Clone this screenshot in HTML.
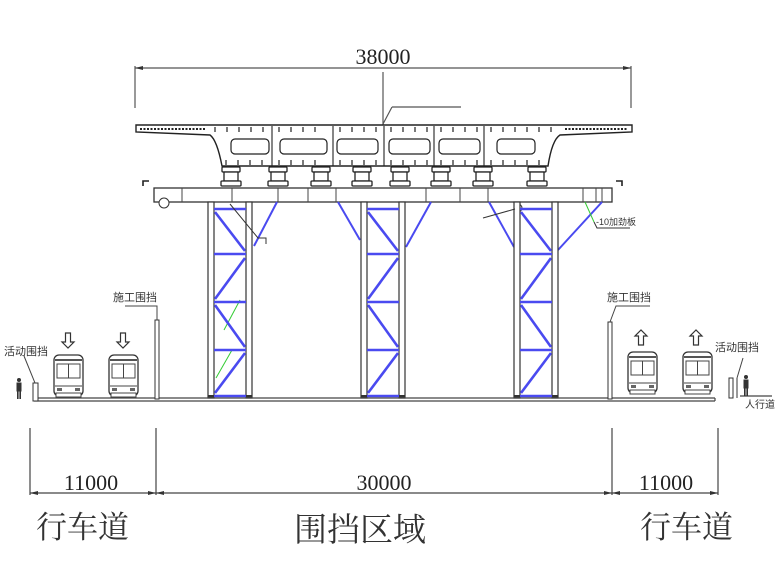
<!DOCTYPE html>
<html><head><meta charset="utf-8"><style>
html,body{margin:0;padding:0;background:#fff;}
svg{display:block;}
.t{font-family:"Liberation Serif",serif;fill:#222;}
.c{font-family:"Liberation Sans","Noto Sans CJK SC",sans-serif;fill:#333;}
</style></head><body>
<svg width="780" height="585" viewBox="0 0 780 585" xmlns="http://www.w3.org/2000/svg">
<defs>
<g id="tower">
  <rect x="0" y="0" width="6" height="196" fill="#fff" stroke="#333" stroke-width="1.2"/>
  <rect x="38" y="0" width="6" height="196" fill="#fff" stroke="#333" stroke-width="1.2"/>
  <g stroke="#4a4af0" stroke-width="2.6">
    <line x1="6" y1="7" x2="38" y2="7"/>
    <line x1="6" y1="52" x2="38" y2="52"/>
    <line x1="6" y1="100" x2="38" y2="100"/>
    <line x1="6" y1="148" x2="38" y2="148"/>
    <line x1="6" y1="194" x2="38" y2="194"/>
    <line x1="7" y1="10" x2="37" y2="49"/>
    <line x1="37" y1="56" x2="7" y2="97"/>
    <line x1="7" y1="103" x2="37" y2="145"/>
    <line x1="37" y1="151" x2="7" y2="191"/>
  </g>
  <rect x="0" y="193" width="6" height="3" fill="#333"/>
  <rect x="38" y="193" width="6" height="3" fill="#333"/>
</g>
<g id="bearing">
  <rect x="-9" y="0" width="18" height="5" fill="#fff" stroke="#222" stroke-width="1.3" rx="1"/>
  <rect x="-7" y="5" width="14" height="9" fill="#fff" stroke="#222" stroke-width="1.3"/>
  <rect x="-10" y="14" width="20" height="5" fill="#fff" stroke="#222" stroke-width="1.3" rx="1"/>
</g>
<g id="bus">
  <rect x="0" y="0" width="29" height="41" rx="5" fill="#fff" stroke="#333" stroke-width="1.3"/>
  <line x1="1" y1="5" x2="28" y2="5" stroke="#555" stroke-width="2"/>
  <rect x="3" y="9" width="23" height="14" fill="none" stroke="#444"/>
  <line x1="14.5" y1="9" x2="14.5" y2="23" stroke="#444"/>
  <line x1="1" y1="31" x2="28" y2="31" stroke="#444"/>
  <rect x="3" y="33" width="5" height="3" fill="#666"/>
  <rect x="21" y="33" width="5" height="3" fill="#666"/>
  <rect x="2" y="38" width="25" height="4" fill="#fff" stroke="#444"/>
</g>
<g id="arrowdown">
  <path d="M-2.5,0 H2.5 V9 H6 L0,15 L-6,9 H-2.5 Z" fill="#fff" stroke="#333" stroke-width="1.2"/>
</g>
<g id="person">
  <circle cx="0" cy="2" r="2" fill="#333"/>
  <rect x="-2.5" y="4.5" width="5" height="9" fill="#333"/>
  <rect x="-2" y="13" width="1.6" height="8" fill="#333"/>
  <rect x="0.4" y="13" width="1.6" height="8" fill="#333"/>
</g>
</defs>

<!-- top dimension -->
<g stroke="#555" stroke-width="1.2" fill="none">
  <line x1="135" y1="68" x2="631" y2="68"/>
  <line x1="135" y1="66" x2="135" y2="108"/>
  <line x1="631" y1="66" x2="631" y2="108"/>
  <line x1="383" y1="72" x2="383" y2="126"/>
  <line x1="383" y1="124" x2="392" y2="107"/>
  <line x1="392" y1="107" x2="461" y2="107"/>
</g>
<path d="M135,68 l8,-2 v4z M631,68 l-8,-2 v4z" fill="#333"/>
<text x="383" y="64" class="t" font-size="22" text-anchor="middle">38000</text>

<!-- deck -->
<path d="M136,125 L632,125 L632,132 L560,135 Q552,140 548,166 L222,166 Q217,140 210,135 L136,132 Z" fill="#fff" stroke="#222" stroke-width="1.4"/>
<g stroke="#222" stroke-width="1.1">
  <line x1="272" y1="126" x2="272" y2="166"/>
  <line x1="333" y1="126" x2="333" y2="166"/>
  <line x1="384" y1="126" x2="384" y2="166"/>
  <line x1="434" y1="126" x2="434" y2="166"/>
  <line x1="484" y1="126" x2="484" y2="166"/>
</g>
<g fill="none" stroke="#222" stroke-width="1.2">
  <rect x="231" y="139" width="38" height="15" rx="4"/>
  <rect x="280" y="139" width="47" height="15" rx="4"/>
  <rect x="337" y="139" width="41" height="15" rx="4"/>
  <rect x="389" y="139" width="41" height="15" rx="4"/>
  <rect x="439" y="139" width="41" height="15" rx="4"/>
  <rect x="497" y="139" width="38" height="15" rx="4"/>
</g>
<!-- ribs -->
<g stroke="#222" stroke-width="1.2" fill="none" id="ribs">
  <path d="M215,127 v5 M227,127 v5 M239,127 v5 M251,127 v5 M263,127 v5 M279,127 v5 M291,127 v5 M303,127 v5 M315,127 v5 M340,127 v5 M352,127 v5 M364,127 v5 M376,127 v5 M391,127 v5 M403,127 v5 M415,127 v5 M427,127 v5 M441,127 v5 M453,127 v5 M465,127 v5 M477,127 v5 M491,127 v5 M503,127 v5 M515,127 v5 M527,127 v5 M539,127 v5 M551,127 v5"/>
  <path d="M226,165 v-5 M238,165 v-5 M250,165 v-5 M262,165 v-5 M279,165 v-5 M291,165 v-5 M303,165 v-5 M315,165 v-5 M340,165 v-5 M352,165 v-5 M364,165 v-5 M376,165 v-5 M391,165 v-5 M403,165 v-5 M415,165 v-5 M427,165 v-5 M441,165 v-5 M453,165 v-5 M465,165 v-5 M477,165 v-5 M491,165 v-5 M503,165 v-5 M515,165 v-5 M527,165 v-5 M539,165 v-5"/>
</g>
<g stroke="#222" stroke-width="2" stroke-dasharray="2 1.5">
  <line x1="140" y1="129" x2="205" y2="129"/>
  <line x1="565" y1="129" x2="628" y2="129"/>
</g>

<!-- bearings -->
<use href="#bearing" x="231" y="167"/>
<use href="#bearing" x="278" y="167"/>
<use href="#bearing" x="321" y="167"/>
<use href="#bearing" x="362" y="167"/>
<use href="#bearing" x="400" y="167"/>
<use href="#bearing" x="441" y="167"/>
<use href="#bearing" x="483" y="167"/>
<use href="#bearing" x="537" y="167"/>

<!-- cap beam -->
<rect x="154" y="188" width="458" height="14" fill="#fff" stroke="#333" stroke-width="1.3"/>
<g stroke="#444" stroke-width="1">
  <line x1="182" y1="188" x2="182" y2="202"/><line x1="232" y1="188" x2="232" y2="202"/>
  <line x1="278" y1="188" x2="278" y2="202"/><line x1="308" y1="188" x2="308" y2="202"/>
  <line x1="336" y1="188" x2="336" y2="202"/><line x1="426" y1="188" x2="426" y2="202"/>
  <line x1="460" y1="188" x2="460" y2="202"/><line x1="488" y1="188" x2="488" y2="202"/>
  <line x1="583" y1="188" x2="583" y2="202"/><line x1="596" y1="188" x2="596" y2="202"/>
  <line x1="602" y1="188" x2="602" y2="202"/>
</g>
<circle cx="164" cy="203" r="5" fill="#fff" stroke="#333"/>
<circle cx="518" cy="208" r="4" fill="#fff" stroke="#333"/>
<path d="M143,186 v-5 h6 M622,186 v-5 h-6" fill="none" stroke="#222" stroke-width="1.6"/>

<!-- outer braces -->
<g stroke="#4a4af0" stroke-width="2">
  <line x1="277" y1="202" x2="254" y2="246"/>
  <line x1="338" y1="202" x2="360" y2="240"/>
  <line x1="431" y1="202" x2="406" y2="247"/>
  <line x1="489" y1="202" x2="514" y2="247"/>
  <line x1="602" y1="202" x2="558" y2="250"/>
</g>
<g stroke="#3c3" stroke-width="1">
  <line x1="585" y1="202" x2="594" y2="222"/>
  <line x1="240" y1="300" x2="224" y2="330"/>
  <line x1="232" y1="350" x2="216" y2="378"/>
</g>
<!-- towers -->
<use href="#tower" x="208" y="202"/>
<use href="#tower" x="361" y="202"/>
<use href="#tower" x="514" y="202"/>

<!-- leaders near towers -->
<g stroke="#333" stroke-width="1" fill="none">
  <path d="M230,204 L258,238 H266 V244"/>
  <path d="M515,209 L483,218"/>
  <path d="M594,222 L597,228 H630"/>
</g>
<text x="596" y="225" class="c" font-size="9">-10加劲板</text>

<!-- ground -->
<g stroke="#444" stroke-width="1.2" fill="none">
  <line x1="34" y1="398" x2="715" y2="398"/>
  <line x1="34" y1="401" x2="715" y2="401"/>
  <line x1="715" y1="398" x2="715" y2="401"/>
  <line x1="740" y1="396" x2="772" y2="396"/>
</g>
<!-- movable fences -->
<rect x="33" y="383" width="5" height="18" fill="#fff" stroke="#333"/>
<rect x="729" y="378" width="4" height="20" fill="#fff" stroke="#333"/>
<line x1="737" y1="378" x2="737" y2="398" stroke="#333"/>
<g stroke="#444" stroke-width="1" fill="none">
  <path d="M24,356 L35,383"/>
  <path d="M743,358 L737,378"/>
</g>
<use href="#person" x="19" y="378"/>
<use href="#person" x="746" y="375"/>
<text x="4" y="355" class="c" font-size="11">活动围挡</text>
<text x="715" y="351" class="c" font-size="11">活动围挡</text>
<text x="745" y="408" class="c" font-size="10">人行道</text>

<!-- construction fences -->
<rect x="155" y="320" width="4" height="79" fill="#fff" stroke="#333"/>
<rect x="608" y="322" width="4" height="77" fill="#fff" stroke="#333"/>
<g stroke="#444" stroke-width="1" fill="none">
  <path d="M125,306 H157 V320"/>
  <path d="M650,306 H616 L610,322"/>
</g>
<text x="113" y="301" class="c" font-size="11">施工围挡</text>
<text x="607" y="301" class="c" font-size="11">施工围挡</text>

<!-- buses & arrows -->
<use href="#bus" x="54" y="355"/>
<use href="#bus" x="109" y="355"/>
<use href="#bus" x="628" y="352"/>
<use href="#bus" x="683" y="352"/>
<use href="#arrowdown" x="68" y="333"/>
<use href="#arrowdown" x="123" y="333"/>
<use href="#arrowdown" transform="translate(641,345) scale(1,-1)"/>
<use href="#arrowdown" transform="translate(696,345) scale(1,-1)"/>

<!-- bottom dims -->
<g stroke="#444" stroke-width="1.2">
  <line x1="30" y1="428" x2="30" y2="495"/>
  <line x1="156" y1="428" x2="156" y2="495"/>
  <line x1="612" y1="428" x2="612" y2="495"/>
  <line x1="718" y1="428" x2="718" y2="495"/>
  <line x1="30" y1="493" x2="718" y2="493"/>
</g>
<path d="M30,493 l8,-2 v4z M156,493 l-8,-2 v4z M156,493 l8,-2 v4z M612,493 l-8,-2 v4z M612,493 l8,-2 v4z M718,493 l-8,-2 v4z" fill="#333"/>
<text x="91" y="490" class="t" font-size="22" text-anchor="middle">11000</text>
<text x="384" y="490" class="t" font-size="22" text-anchor="middle">30000</text>
<text x="666" y="490" class="t" font-size="22" text-anchor="middle">11000</text>
<text x="36" y="538" class="c" font-size="31" fill="#222" style="font-family:'Noto Serif CJK SC','Liberation Serif',serif">行车道</text>
<text x="294" y="541" class="c" font-size="33" fill="#222" style="font-family:'Noto Serif CJK SC','Liberation Serif',serif">围挡区域</text>
<text x="640" y="538" class="c" font-size="31" fill="#222" style="font-family:'Noto Serif CJK SC','Liberation Serif',serif">行车道</text>
</svg>
</body></html>
